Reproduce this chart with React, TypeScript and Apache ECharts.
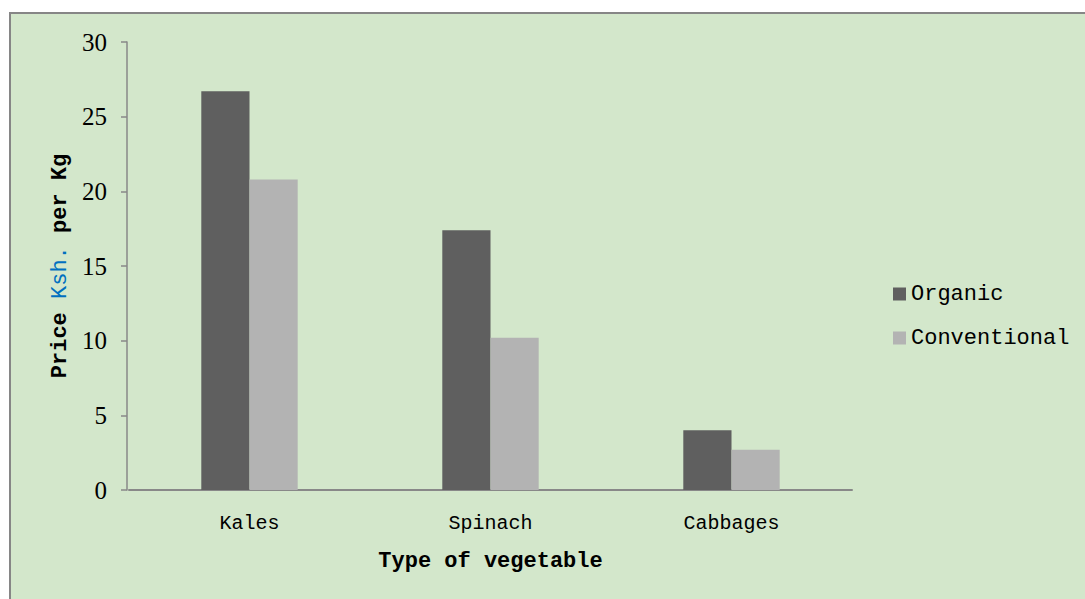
import React, { useEffect, useRef } from "react";
import * as echarts from "echarts";

const categories = ["Kales", "Spinach", "Cabbages"];
const organic = [26.7, 17.4, 4.0];
const conventional = [20.8, 10.2, 2.7];
const seriesNames = ["Organic", "Conventional"];

export default function App() {
  const ref = useRef<HTMLDivElement>(null);
  useEffect(() => {
    const chart = echarts.init(ref.current!, null, { renderer: "svg" });
    const mono = "Liberation Mono";
    chart.setOption({
      animation: false,
      backgroundColor: "#ffffff",
      graphic: [
        {
          type: "rect",
          z: -10,
          silent: true,
          shape: { x: 10, y: 13, width: 1100, height: 620 },
          style: { fill: "#d3e7cb", stroke: "#868686", lineWidth: 2 },
        },
      ],
      grid: { left: 129, right: 233, top: 42, bottom: 109 },
      legend: {
        orient: "vertical",
        left: 888,
        top: 278,
        itemWidth: 13,
        itemHeight: 13,
        itemGap: 22,
        icon: "rect",
        textStyle: { fontFamily: mono, fontSize: 22, color: "#000" },
        data: seriesNames,
      },
      xAxis: {
        type: "category",
        data: categories,
        axisLine: { lineStyle: { color: "#888888", width: 2 } },
        axisTick: { show: false },
        axisLabel: { fontFamily: mono, fontSize: 20, color: "#000", margin: 23 },
        name: "Type of vegetable",
        nameLocation: "middle",
        nameGap: 60,
        nameTextStyle: { fontFamily: mono, fontSize: 22, fontWeight: "bold", color: "#000" },
      },
      yAxis: {
        type: "value",
        min: 0,
        max: 30,
        interval: 5,
        offset: 2,
        splitLine: { show: false },
        axisLine: { show: true, lineStyle: { color: "#888888", width: 1.5 } },
        axisTick: { show: true, length: 6, lineStyle: { color: "#888888", width: 1.5 } },
        axisLabel: { fontFamily: "Liberation Serif", fontSize: 25, color: "#000", margin: 20 },
        name: "{a|Price }{b|Ksh.}{a| per Kg}",
        nameLocation: "middle",
        nameGap: 55,
        nameTextStyle: {
          rich: {
            a: { fontFamily: mono, fontSize: 22, fontWeight: "bold", color: "#000" },
            b: { fontFamily: mono, fontSize: 22, color: "#0070c0" },
          },
        },
      },
      series: [
        {
          name: seriesNames[0],
          type: "bar",
          data: organic,
          barWidth: "20%",
          barGap: "0%",
          itemStyle: { color: "#5f5f5f" },
        },
        {
          name: seriesNames[1],
          type: "bar",
          data: conventional,
          barWidth: "20%",
          barGap: "0%",
          itemStyle: { color: "#b3b3b3" },
        },
      ],
    });
    return () => chart.dispose();
  }, []);
  return (
    <div
      ref={ref}
      style={{ position: "fixed", left: 0, top: 0, width: 1085, height: 599 }}
    />
  );
}
